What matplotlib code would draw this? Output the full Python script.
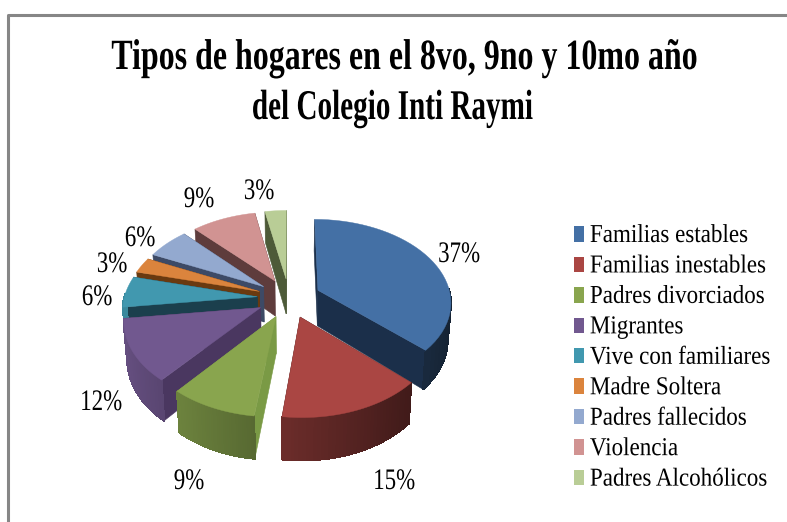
"""Exploded 3D style pie: tipos de hogares, Colegio Inti Raymi."""
import numpy as np
import matplotlib
matplotlib.use("Agg")
import matplotlib.pyplot as plt
from matplotlib.patches import Patch
from matplotlib.patheffects import AbstractPathEffect
from matplotlib.transforms import Affine2D

labels = ["Familias estables", "Familias inestables", "Padres divorciados",
          "Migrantes", "Vive con familiares", "Madre Soltera",
          "Padres fallecidos", "Violencia", "Padres Alcohólicos"]
values = [37, 15, 9, 12, 6, 3, 6, 9, 3]
value_labels = ["37%", "15%", "9%", "12%", "6%", "3%", "6%", "9%", "3%"]

colors = ["#4470a5", "#aa4643", "#89a54e", "#71588f", "#4198af",
          "#db843d", "#93a9cf", "#d19392", "#b9cd96"]
# colour of the cut faces of each slice
cut_colors = ["#1b2f4a", "#451a18", "#7a9a45", "#4a3760", "#1b3f4d",
              "#6a3a10", "#3d4a66", "#5e3c3c", "#4d5a38"]
label_pos = [(459, 254), (394, 481), (189, 481), (101, 402), (97, 297),
             (112, 264), (140, 238), (199, 199), (259, 191)]

# pie geometry, in pixels of the 787x522 picture
CX, CY = 289, 298
RX, RY = 133, 82
DEPTH = 36
PERSP = 0.13
EXPLODE = 0.24


class Stretch(AbstractPathEffect):
    """Make text taller from its baseline, the source text is condensed."""

    def __init__(self, sy):
        super().__init__()
        self.sy = sy

    def draw_path(self, renderer, gc, tpath, affine, rgbFace=None):
        m = affine.get_matrix().copy()
        m[:2, 1] *= self.sy
        renderer.draw_path(gc, tpath, Affine2D(m), rgbFace)


def project(u, v, bottom=False):
    """Plane coordinates of the pie to picture pixels."""
    s = 1 / (1 + PERSP * v)
    x = RX * u * s
    y = -RY * v * s
    if bottom:
        return CX + x * 0.98, CY + y + DEPTH * s
    return CX + x, CY + y


def shade(color, f):
    rgb = np.array(matplotlib.colors.to_rgb(color))
    return tuple(rgb * f)


def draw_slice(ax, a0, a1, color, cut):
    mid = (a0 + a1) / 2
    ox, oy = EXPLODE * np.sin(mid), EXPLODE * np.cos(mid)
    t = np.linspace(a0, a1, 40)
    u, v = ox + np.sin(t), oy + np.cos(t)

    # cut faces at both ends of the slice
    for a in (a0, a1):
        eu, ev = ox + np.sin(a), oy + np.cos(a)
        x0, y0 = project(ox, oy)
        x1, y1 = project(eu, ev)
        x2, y2 = project(eu, ev, bottom=True)
        x3, y3 = project(ox, oy, bottom=True)
        ax.fill([x0, x1, x2, x3], [y0, y1, y2, y3], color=cut, lw=0.4)

    # outer wall in strips, lighter to the left, only the part facing us
    xt, yt = project(u, v)
    xb, yb = project(u, v, bottom=True)
    for i in range(len(t) - 1):
        if np.cos(t[i]) > 0.03:
            continue
        f = np.clip(0.6 - 0.3 * np.sin(t[i]), 0.3, 0.9)
        ax.fill([xt[i], xt[i + 1], xb[i + 1], xb[i]],
                [yt[i], yt[i + 1], yb[i + 1], yb[i]],
                color=shade(color, f), lw=0.8, antialiased=False)

    # top face
    x0, y0 = project(ox, oy)
    ax.fill(np.r_[x0, xt], np.r_[y0, yt], color=color, lw=0.3)


fig = plt.figure(figsize=(7.87, 5.22), dpi=100)
ax = fig.add_axes([0, 0, 1, 1])
ax.set_xlim(0, 787)
ax.set_ylim(522, 0)
ax.axis("off")

# frame, open to the right and the bottom
ax.plot([8, 8, 787], [522, 14.5, 14.5], color="#868686", lw=2.2)

edges = np.radians(np.r_[0, np.cumsum(values)] * 3.6)
mids = (edges[:-1] + edges[1:]) / 2
# far slices first
for i in sorted(range(len(values)), key=lambda k: -np.cos(mids[k])):
    draw_slice(ax, edges[i], edges[i + 1], colors[i], cut_colors[i])

serif = "Liberation Serif"
for (x, y), s in zip(label_pos, value_labels):
    ax.text(x, y + 8, s, ha="center", va="baseline", family=serif, fontsize=16.5,
            color="black", path_effects=[Stretch(1.3)])

ax.text(405, 69, "Tipos de hogares en el 8vo, 9no y 10mo año", ha="center",
        va="baseline", family=serif, weight="bold", fontsize=23,
        path_effects=[Stretch(1.35)])
ax.text(392, 119, "del Colegio Inti Raymi", ha="center", va="baseline",
        family=serif, weight="bold", fontsize=21,
        path_effects=[Stretch(1.45)])

handles = [Patch(facecolor=c, edgecolor="none") for c in colors]
leg = ax.legend(handles, labels, loc="upper left", bbox_to_anchor=(574 / 787, 1 - 226 / 522),
                frameon=False, prop={"family": serif, "size": 16.6},
                handlelength=0.43, handleheight=0.65, handletextpad=0.26,
                labelspacing=0.41, borderpad=0, borderaxespad=0)
for txt in leg.get_texts():
    txt.set_path_effects([Stretch(1.12)])

fig.savefig("out.png", dpi=100)
